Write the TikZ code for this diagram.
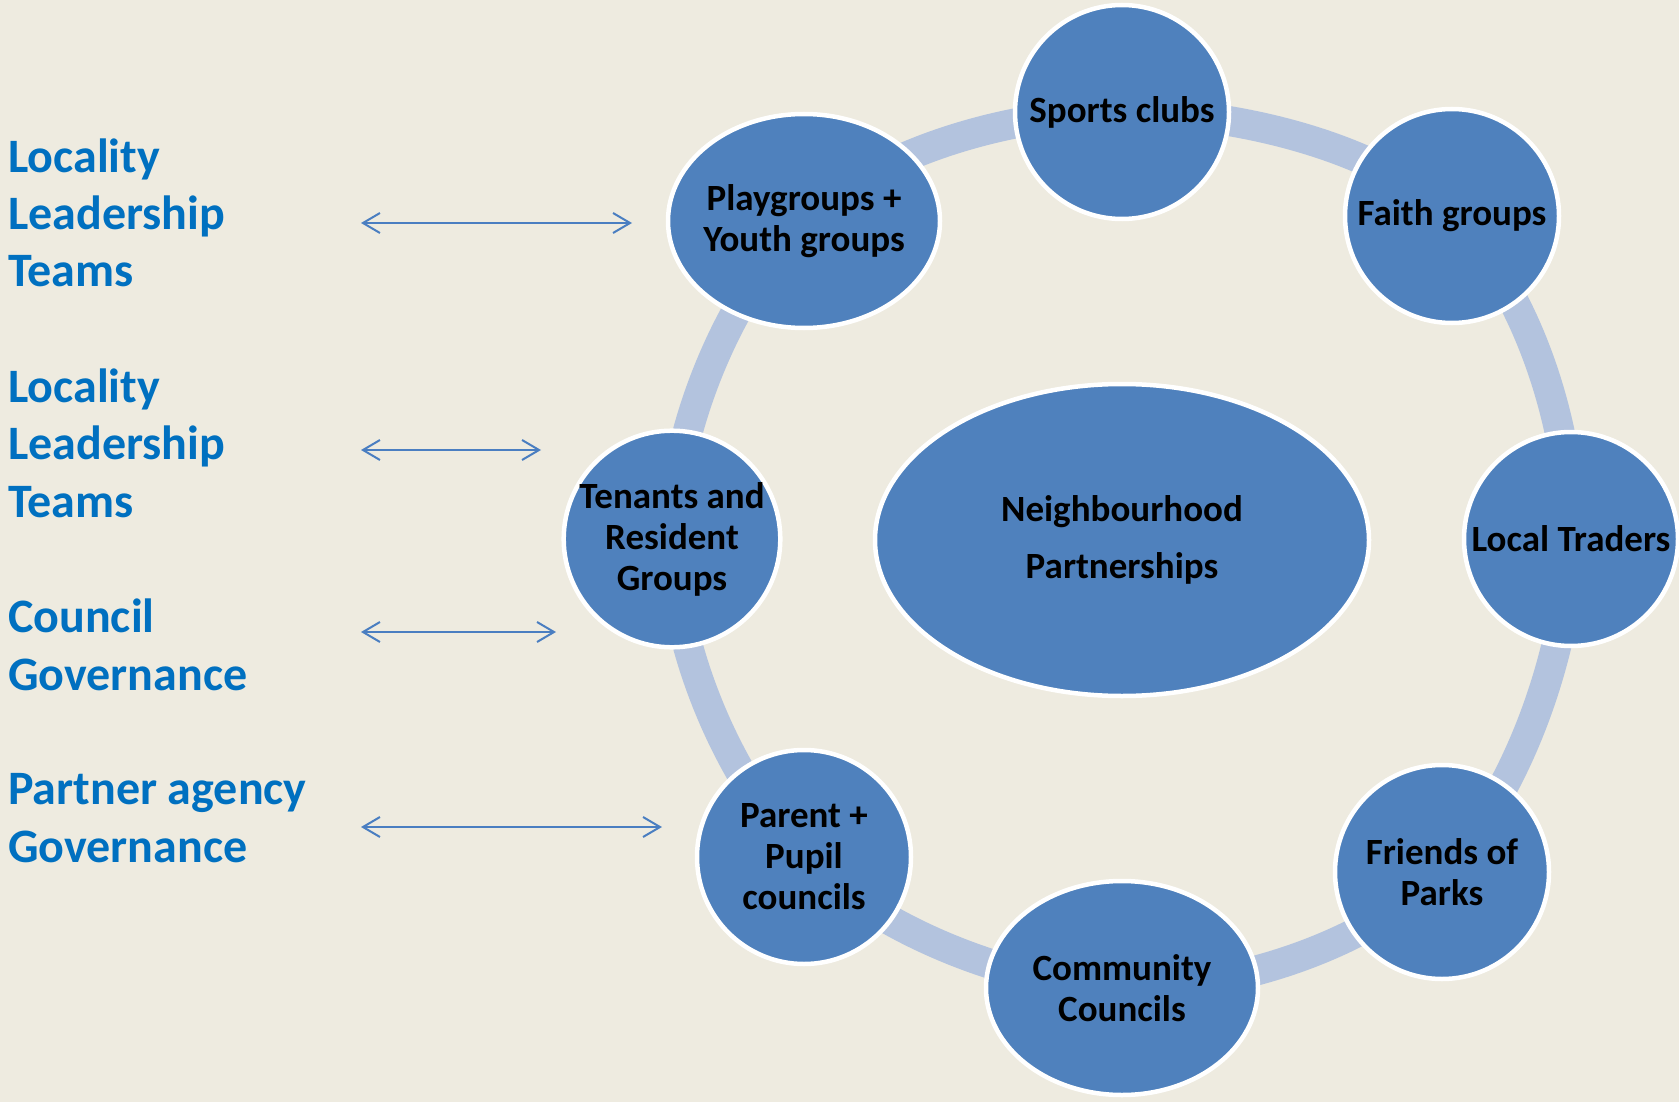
\documentclass[tikz,border=0pt]{standalone}
\usepackage{fontspec}
\setmainfont{Carlito}
\usetikzlibrary{arrows.meta,shapes.geometric}
\definecolor{bgcol}{HTML}{EEEBE0}
\definecolor{nodefill}{HTML}{4F81BD}
\definecolor{ringcol}{HTML}{B3C3DE}
\definecolor{labelcol}{HTML}{0070C0}
\definecolor{linkcol}{HTML}{4A7EC1}
\begin{document}
\begin{tikzpicture}[x=1pt,y=-1pt,
  member/.style={circle, fill=nodefill, draw=white, line width=4.5pt,
    minimum size=214pt, inner sep=0pt, align=center,
    font=\bfseries\fontsize{37}{41}\selectfont},
  memberoval/.style={member, ellipse, inner xsep=-12pt,
    minimum width=272pt, minimum height=214pt},
  hub/.style={ellipse, fill=nodefill, draw=white, line width=4.5pt,
    minimum width=494pt, minimum height=312pt, inner sep=0pt, align=center,
    font=\bfseries\fontsize{37}{57}\selectfont},
  ring/.style={draw=ringcol, line width=30pt},
  sidelabel/.style={anchor=base west, inner sep=0pt, align=left, text=labelcol,
    font=\bfseries\fontsize{48}{57.5}\selectfont},
  link/.style={draw=linkcol, line width=2pt,
    {Straight Barb[length=17pt,width=20pt]}-{Straight Barb[length=17pt,width=20pt]}}
]
% page background
\fill[bgcol] (0,0) rectangle (1679,1102);
\useasboundingbox (0,0) rectangle (1679,1102);

% positions of the groups around the ring
\coordinate (p1) at (1122,112);
\coordinate (p2) at (1452,216);
\coordinate (p3) at (1571,539);
\coordinate (p4) at (1442,872);
\coordinate (p5) at (1122,988);
\coordinate (p6) at (804,857);
\coordinate (p7) at (672,539);
\coordinate (p8) at (804,221);

% the ring joining the groups
\draw[ring] plot[smooth cycle, tension=0.6] coordinates {(p1) (p2) (p3) (p4) (p5) (p6) (p7) (p8)};

% central hub
\node[hub] (hub) at (1122,540) {Neighbourhood\\Partnerships};

% groups
\node[member] (sports) at (p1) {Sports clubs};
\node[member] (faith) at (p2) {Faith groups};
\node[member] (traders) at (p3) {Local Traders};
\node[member] (parks) at (p4) {Friends of\\Parks};
\node[memberoval] (community) at (p5) {Community\\Councils};
\node[member] (parent) at (p6) {Parent +\\Pupil\\councils};
\node[member] (tenants) at (p7) {Tenants and\\Resident\\Groups};
\node[memberoval] (play) at (p8) {Playgroups +\\Youth groups};

% governance labels (anchored at the baseline of the last line)
\node[sidelabel] (llt1) at (8,287) {Locality\\Leadership\\Teams};
\node[sidelabel] (llt2) at (8,517) {Locality\\Leadership\\Teams};
\node[sidelabel] (council) at (8,690) {Council\\Governance};
\node[sidelabel] (partner) at (8,862) {Partner agency\\Governance};

% two-way links
\coordinate (a1l) at (361,223); \coordinate (a1r) at (632,223);
\coordinate (a2l) at (361,450); \coordinate (a2r) at (541,450);
\coordinate (a3l) at (361,632); \coordinate (a3r) at (556,632);
\coordinate (a4l) at (361,827); \coordinate (a4r) at (662,827);
\draw[link] (a1l) -- (a1r);
\draw[link] (a2l) -- (a2r);
\draw[link] (a3l) -- (a3r);
\draw[link] (a4l) -- (a4r);
\end{tikzpicture}
\end{document}
